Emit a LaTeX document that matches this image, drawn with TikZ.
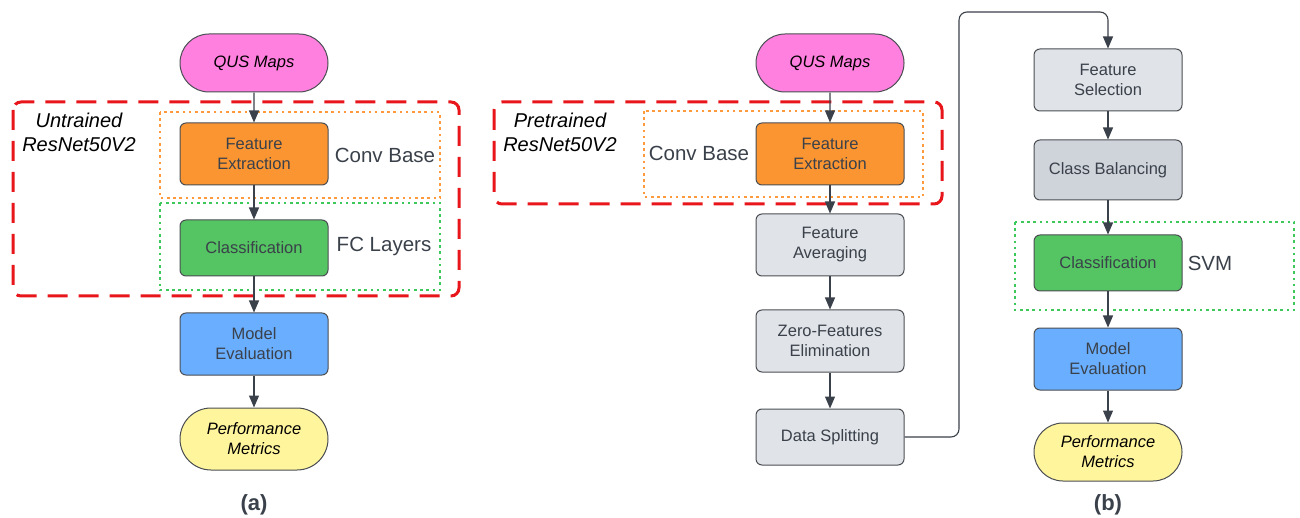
\documentclass[tikz,border=0pt]{standalone}
\usepackage{fontspec}
\setmainfont{Liberation Sans}
\usetikzlibrary{arrows.meta,shapes.misc}
\definecolor{inkc}{HTML}{3A414A}
\definecolor{edgec}{HTML}{4A4D52}
\definecolor{pinkc}{HTML}{FF80DF}
\definecolor{orangec}{HTML}{FA9532}
\definecolor{greenc}{HTML}{55C462}
\definecolor{bluec}{HTML}{6AAFFF}
\definecolor{yellowc}{HTML}{FFF59D}
\definecolor{greyc}{HTML}{E0E3E8}
\definecolor{greydc}{HTML}{CFD4DB}
\definecolor{redc}{HTML}{E8161B}
\definecolor{dotorange}{HTML}{FF9A3C}
\definecolor{dotgreen}{HTML}{3CC85A}
\tikzset{
  box/.style={draw=edgec, line width=1pt, rounded corners=6pt, minimum width=148pt,
    minimum height=62pt, align=center, text=inkc, font=\fontsize{16.5}{20}\selectfont, inner sep=0pt},
  term/.style={draw=edgec, line width=1pt, rounded rectangle, minimum width=148pt,
    minimum height=58pt, align=center, text=black, font=\fontsize{16.5}{20}\selectfont\itshape, inner sep=0pt},
  flow/.style={draw=edgec, line width=1.1pt, -{Triangle[width=10pt,length=12pt]}, color=inkc},
  group/.style={draw=redc, line width=3pt, dash pattern=on 20pt off 11pt, rounded corners=8pt},
  dotbox/.style={line width=2.6pt, dash pattern=on 2.6pt off 3.6pt},
  side/.style={text=inkc, font=\fontsize{20.5}{24}\selectfont},
  netlabel/.style={align=center, font=\fontsize{20}{24}\selectfont\itshape, text=black},
  panel/.style={font=\fontsize{22}{24}\selectfont\bfseries, text=inkc}
}
\begin{document}
\begin{tikzpicture}[x=1pt, y=-1pt]
\useasboundingbox (0,0) rectangle (1300,518);

% ---------- panel (a) ----------
\draw[group] (13,102) rectangle (459,296);
\draw[dotbox, draw=dotorange] (160,112) rectangle (440,198);
\draw[dotbox, draw=dotgreen] (160,203) rectangle (440,290);

\node[term, fill=pinkc] (qa) at (254,63) {QUS Maps};
\node[box, fill=orangec] (fea) at (254,154) {Feature\\Extraction};
\node[box, fill=greenc, minimum height=56pt] (cla) at (254,248) {Classification};
\node[box, fill=bluec] (mea) at (254,344) {Model\\Evaluation};
\node[term, fill=yellowc, minimum height=62pt] (pma) at (254,439) {Performance\\Metrics};

\node[netlabel] (neta) at (79,132) {Untrained\\ResNet50V2};
\node[side] (cba) at (385,155) {Conv Base};
\node[side] (fca) at (384,246) {FC Layers};
\node[panel] (la) at (254,505) {(a)};

\draw[flow] (qa) -- (fea);
\draw[flow] (fea) -- (cla);
\draw[flow] (cla) -- (mea);
\draw[flow] (mea) -- (pma);

% ---------- panel (b) ----------
\draw[group] (494,102) rectangle (942,204);
\draw[dotbox, draw=dotorange] (644,111) rectangle (923,197);
\draw[dotbox, draw=dotgreen] (1015,222) rectangle (1294,310);

\node[term, fill=pinkc] (qb) at (830,63) {QUS Maps};
\node[box, fill=orangec] (feb) at (830,154) {Feature\\Extraction};
\node[box, fill=greyc] (fav) at (830,245) {Feature\\Averaging};
\node[box, fill=greyc] (zfe) at (830,341) {Zero-Features\\Elimination};
\node[box, fill=greyc, minimum height=56pt] (dsp) at (830,437) {Data Splitting};
\node[box, fill=greyc] (fse) at (1108,80) {Feature\\Selection};
\node[box, fill=greydc, minimum height=60pt] (cba2) at (1108,170) {Class Balancing};
\node[box, fill=greenc, minimum height=56pt] (clb) at (1108,263) {Classification};
\node[box, fill=bluec] (meb) at (1108,359) {Model\\Evaluation};
\node[term, fill=yellowc] (pmb) at (1108,452) {Performance\\Metrics};

\node[netlabel] (netb) at (560,132) {Pretrained\\ResNet50V2};
\node[side] (cbb) at (699,153) {Conv Base};
\node[side] (svm) at (1210,263) {SVM};
\node[panel] (lb) at (1108,505) {(b)};

\coordinate (up1) at (959,12);
\draw[flow] (qb) -- (feb);
\draw[flow] (feb) -- (fav);
\draw[flow] (fav) -- (zfe);
\draw[flow] (zfe) -- (dsp);
\draw[flow, rounded corners=8pt] (dsp.east) -| (up1) -| (fse.north);
\draw[flow] (fse) -- (cba2);
\draw[flow] (cba2) -- (clb);
\draw[flow] (clb) -- (meb);
\draw[flow] (meb) -- (pmb);
\end{tikzpicture}
\end{document}
